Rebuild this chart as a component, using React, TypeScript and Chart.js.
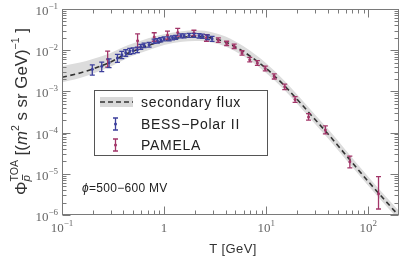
import React, { useEffect, useRef } from "react";
import { Chart, registerables } from "chart.js";
Chart.register(...registerables);

// secondary flux model curve and its uncertainty band
const curveT = [0.1, 0.15, 0.2, 0.3, 0.4, 0.5, 0.7, 1, 1.5, 2, 2.5, 3, 4, 5, 6, 8, 10, 15, 20, 30, 40, 60, 100, 150, 200];
const curveF = [2.2e-3, 2.8e-3, 3.5e-3, 5.2e-3, 7.5e-3, 9.5e-3, 1.3e-2, 1.7e-2, 2.05e-2, 2.15e-2, 2.1e-2, 1.95e-2, 1.58e-2, 1.2e-2, 9.2e-3, 5.6e-3, 3.6e-3, 1.4e-3, 6.5e-4, 2.1e-4, 9.5e-5, 2.9e-5, 6.5e-6, 2.1e-6, 9.5e-7];
const bandHigh = [4.1e-3, 5.0e-3, 6.1e-3, 8.6e-3, 1.2e-2, 1.47e-2, 1.95e-2, 2.45e-2, 2.9e-2, 3.05e-2, 2.95e-2, 2.7e-2, 2.15e-2, 1.62e-2, 1.24e-2, 7.5e-3, 4.8e-3, 1.85e-3, 8.5e-4, 2.75e-4, 1.25e-4, 3.8e-5, 8.5e-6, 2.75e-6, 1.25e-6];
const bandLow = [1.65e-3, 2.1e-3, 2.7e-3, 4.0e-3, 5.8e-3, 7.4e-3, 1.0e-2, 1.33e-2, 1.6e-2, 1.68e-2, 1.64e-2, 1.52e-2, 1.23e-2, 9.3e-3, 7.2e-3, 4.4e-3, 2.8e-3, 1.1e-3, 5.1e-4, 1.65e-4, 7.4e-5, 2.25e-5, 5.1e-6, 1.65e-6, 7.4e-7];

// BESS-Polar II
const bessT = [0.198, 0.245, 0.289, 0.349, 0.385, 0.421, 0.461, 0.497, 0.547, 0.591, 0.637, 0.713, 0.798, 0.86, 0.928, 1.0, 1.12, 1.21, 1.3, 1.46, 1.57, 1.76, 1.97, 2.2, 2.37, 2.66, 2.95];
const bessF = [3.44e-3, 4.07e-3, 4.95e-3, 6.5e-3, 7.8e-3, 8.7e-3, 9.5e-3, 9.8e-3, 1.03e-2, 1.22e-2, 1.32e-2, 1.36e-2, 1.66e-2, 1.7e-2, 1.8e-2, 1.9e-2, 1.9e-2, 2.0e-2, 2.07e-2, 2.25e-2, 2.25e-2, 2.3e-2, 2.3e-2, 2.25e-2, 2.2e-2, 2.07e-2, 1.9e-2];
const bessErrPct = [28, 26, 24, 22, 20, 18, 17, 16, 15, 14, 13, 13, 12, 12, 12, 11, 11, 11, 11, 11, 11, 11, 11, 12, 12, 13, 14];

// PAMELA
const pamT = [0.28, 0.55, 0.8, 1.08, 1.36, 1.96, 2.6, 3.4, 4.1, 4.86, 5.8, 6.9, 8.2, 9.8, 12, 15.2, 19.2, 26, 38, 66, 126];
const pamF = [6.0e-3, 1.7e-2, 2.1e-2, 2.3e-2, 2.7e-2, 2.6e-2, 2.0e-2, 1.75e-2, 1.46e-2, 1.25e-2, 8.6e-3, 5.9e-3, 4.9e-3, 3.6e-3, 2.3e-3, 1.29e-3, 6.4e-4, 2.4e-4, 1.16e-4, 1.95e-5, 3.3e-6];
const pamHi = [9.5e-3, 2.5e-2, 2.65e-2, 2.9e-2, 3.4e-2, 3.05e-2, 2.4e-2, 2.0e-2, 1.65e-2, 1.4e-2, 9.7e-3, 6.7e-3, 5.6e-3, 4.1e-3, 2.65e-3, 1.5e-3, 7.5e-4, 2.9e-4, 1.45e-4, 2.7e-5, 8.5e-6];
const pamLo = [3.9e-3, 1.15e-2, 1.65e-2, 1.85e-2, 2.2e-2, 2.25e-2, 1.65e-2, 1.55e-2, 1.3e-2, 1.1e-2, 7.6e-3, 5.2e-3, 4.3e-3, 3.15e-3, 2.0e-3, 1.1e-3, 5.4e-4, 2.0e-4, 9.3e-5, 1.4e-5, 1.4e-6];

// axes
const xMin = 0.1, xMax = 200, yMin = 1e-6, yMax = 1e-1;
const xTickExps = [-1, 0, 1, 2];
const yTickExps = [-6, -5, -4, -3, -2, -1];
const legendLabels = ["secondary flux", "BESS\u2212Polar II", "PAMELA"];
const xTitle = "T [GeV]";
const phiLabel = "=500\u2212600 MV";

const SANS = '"Liberation Sans", Arial, sans-serif';
const SERIF = '"Liberation Serif", "Times New Roman", serif';
const BLUE = "#3c3f9c";
const PINK = "#a23568";

type Part = { t: string; f: string; dy: number; bar?: boolean };
type Item = Part | { stack: Part[] };

function itemWidth(ctx: CanvasRenderingContext2D, it: Item): number {
  if ("stack" in it) return Math.max(...it.stack.map((p) => itemWidth(ctx, p)));
  ctx.font = it.f;
  return ctx.measureText(it.t).width;
}
function partsWidth(ctx: CanvasRenderingContext2D, items: Item[]) {
  return items.reduce((s, it) => s + itemWidth(ctx, it), 0);
}
function drawPart(ctx: CanvasRenderingContext2D, p: Part, x: number, y: number) {
  ctx.font = p.f;
  ctx.fillText(p.t, x, y + p.dy);
  if (p.bar) {
    const w = ctx.measureText(p.t).width;
    ctx.save();
    ctx.lineWidth = 0.9;
    ctx.strokeStyle = ctx.fillStyle as string;
    ctx.beginPath();
    ctx.moveTo(x + 1.5, y + p.dy - 7.5);
    ctx.lineTo(x + w + 0.5, y + p.dy - 7.5);
    ctx.stroke();
    ctx.restore();
  }
}
function drawItems(ctx: CanvasRenderingContext2D, items: Item[], x: number, y: number) {
  let cx = x;
  for (const it of items) {
    if ("stack" in it) it.stack.forEach((p) => drawPart(ctx, p, cx, y));
    else drawPart(ctx, it, cx, y);
    cx += itemWidth(ctx, it);
  }
}
function powItems(e: number): Item[] {
  if (e === 0) return [{ t: "1", f: `13px ${SERIF}`, dy: 0 }];
  return [
    { t: "10", f: `13px ${SERIF}`, dy: 0 },
    { t: e < 0 ? "\u2212" + -e : String(e), f: `9px ${SERIF}`, dy: -6 },
  ];
}

const errorBarPlugin = {
  id: "errbars",
  afterDatasetsDraw(chart: any) {
    const { ctx, scales, chartArea } = chart;
    const x = scales.x, y = scales.y;
    ctx.save();
    ctx.beginPath();
    ctx.rect(chartArea.left, chartArea.top, chartArea.right - chartArea.left, chartArea.bottom - chartArea.top);
    ctx.clip();
    chart.data.datasets.forEach((ds: any) => {
      if (!ds.errHi) return;
      ctx.strokeStyle = ds.borderColor;
      ctx.lineWidth = 1.3;
      ds.data.forEach((p: any, j: number) => {
        const px = x.getPixelForValue(p.x);
        const y1 = y.getPixelForValue(ds.errHi[j]);
        const y2 = y.getPixelForValue(ds.errLo[j]);
        ctx.beginPath();
        ctx.moveTo(px, y1);
        ctx.lineTo(px, y2);
        ctx.moveTo(px - 2.5, y1);
        ctx.lineTo(px + 2.5, y1);
        ctx.moveTo(px - 2.5, y2);
        ctx.lineTo(px + 2.5, y2);
        ctx.stroke();
      });
    });
    ctx.restore();
  },
};

const decorPlugin = {
  id: "decor",
  afterDraw(chart: any) {
    const { ctx, scales, chartArea: ca } = chart;
    const x = scales.x, y = scales.y;
    ctx.save();
    // frame
    ctx.strokeStyle = "#7a7a7a";
    ctx.lineWidth = 1;
    const L = Math.round(ca.left) + 0.5, R = Math.round(ca.right) - 0.5;
    const T = Math.round(ca.top) + 0.5, B = Math.round(ca.bottom) - 0.5;
    ctx.strokeRect(L, T, R - L, B - T);
    ctx.beginPath();
    // x ticks
    for (let d = -1; d <= 2; d++) {
      for (let m = 1; m <= 9; m++) {
        const v = m * Math.pow(10, d);
        if (v < xMin || v >= xMax) continue;
        const px = Math.round(x.getPixelForValue(v)) + 0.5;
        const len = m === 1 ? 8 : 4;
        ctx.moveTo(px, B); ctx.lineTo(px, B - len);
        ctx.moveTo(px, T); ctx.lineTo(px, T + len);
      }
    }
    // y ticks
    for (let d = -6; d <= -1; d++) {
      for (let m = 1; m <= 9; m++) {
        const v = m * Math.pow(10, d);
        if (v < yMin || v > yMax) continue;
        const py = Math.round(y.getPixelForValue(v)) + 0.5;
        const len = m === 1 ? 8 : 4;
        ctx.moveTo(L, py); ctx.lineTo(L + len, py);
        ctx.moveTo(R, py); ctx.lineTo(R - len, py);
      }
    }
    ctx.stroke();

    // tick labels
    ctx.fillStyle = "#666";
    ctx.textBaseline = "alphabetic";
    ctx.textAlign = "left";
    xTickExps.forEach((e) => {
      const items = powItems(e);
      const w = partsWidth(ctx, items);
      const px = x.getPixelForValue(Math.pow(10, e));
      drawItems(ctx, items, px - w / 2, 232);
    });
    yTickExps.forEach((e) => {
      const items = powItems(e);
      const w = partsWidth(ctx, items);
      const py = y.getPixelForValue(Math.pow(10, e));
      drawItems(ctx, items, 58 - w, py + 6);
    });

    // x title
    ctx.fillStyle = "#333";
    ctx.font = `13px ${SANS}`;
    (ctx as any).letterSpacing = "0.4px";
    const tw = ctx.measureText(xTitle).width;
    ctx.fillText(xTitle, 233 - tw / 2, 253);

    // y title (rotated)
    (ctx as any).letterSpacing = "0px";
    const yItems: Item[] = [
      { t: "\u03A6", f: `16px ${SANS}`, dy: 0 },
      { stack: [
        { t: "TOA", f: `10px ${SANS}`, dy: -9 },
        { t: "p", f: `italic 11px ${SANS}`, dy: 3, bar: true },
      ] },
      { t: " [(", f: `16px ${SANS}`, dy: 0 },
      { t: "m", f: `italic 16px ${SANS}`, dy: 0 },
      { t: "2", f: `10px ${SANS}`, dy: -8 },
      { t: " s sr GeV)", f: `16px ${SANS}`, dy: 0 },
      { t: "\u22121", f: `10px ${SANS}`, dy: -8 },
      { t: " ]", f: `16px ${SANS}`, dy: 0 },
    ];
    const yw = partsWidth(ctx, yItems);
    ctx.save();
    ctx.translate(27, 195);
    ctx.rotate(-Math.PI / 2);
    ctx.scale(167 / yw, 1);
    drawItems(ctx, yItems, 0, 0);
    ctx.restore();

    // legend
    const lx = 94.5, ly = 90.5, lw = 173, lh = 65;
    ctx.fillStyle = "#fff";
    ctx.fillRect(lx, ly, lw, lh);
    ctx.strokeStyle = "#555";
    ctx.lineWidth = 1;
    ctx.strokeRect(lx, ly, lw, lh);
    const rows = [102, 124, 145];
    ctx.fillStyle = "#d9d9d9";
    ctx.fillRect(100, rows[0] - 5, 33, 10);
    ctx.strokeStyle = "#333";
    ctx.lineWidth = 1.6;
    ctx.setLineDash([5, 3]);
    ctx.beginPath();
    ctx.moveTo(100, rows[0]);
    ctx.lineTo(133, rows[0]);
    ctx.stroke();
    ctx.setLineDash([]);
    [BLUE, PINK].forEach((c, i) => {
      const cy = rows[i + 1];
      ctx.strokeStyle = c;
      ctx.lineWidth = 1.3;
      ctx.beginPath();
      ctx.moveTo(115.5, cy - 6); ctx.lineTo(115.5, cy + 6);
      ctx.moveTo(113, cy - 6); ctx.lineTo(118, cy - 6);
      ctx.moveTo(113, cy + 6); ctx.lineTo(118, cy + 6);
      ctx.stroke();
      ctx.fillStyle = c;
      ctx.beginPath();
      ctx.arc(115.5, cy, 1.5, 0, Math.PI * 2);
      ctx.fill();
    });
    ctx.fillStyle = "#222";
    ctx.font = `14px ${SANS}`;
    (ctx as any).letterSpacing = "0.7px";
    ctx.textBaseline = "middle";
    legendLabels.forEach((s, i) => ctx.fillText(s, 141, rows[i] + 1));

    // phi annotation
    (ctx as any).letterSpacing = "0.3px";
    ctx.fillStyle = "#222";
    ctx.font = `italic 12px ${SANS}`;
    ctx.fillText("\u03D5", 82, 189);
    const pw = ctx.measureText("\u03D5").width;
    ctx.font = `12px ${SANS}`;
    ctx.fillText(phiLabel, 82 + pw, 189);
    ctx.restore();
  },
};

export default function App() {
  const ref = useRef<HTMLCanvasElement | null>(null);
  useEffect(() => {
    document.body.style.margin = "0";
    const canvas = ref.current!;
    const chart = new Chart(canvas, {
      type: "line",
      data: {
        datasets: [
          {
            type: "scatter",
            label: "PAMELA",
            data: pamT.map((t, i) => ({ x: t, y: pamF[i] })),
            backgroundColor: PINK,
            borderColor: PINK,
            pointRadius: 1.5,
            pointBorderWidth: 0,
            showLine: false,
            order: 0,
            errHi: pamHi,
            errLo: pamLo,
          } as any,
          {
            type: "scatter",
            label: "BESS-Polar II",
            data: bessT.map((t, i) => ({ x: t, y: bessF[i] })),
            backgroundColor: BLUE,
            borderColor: BLUE,
            pointRadius: 1.5,
            pointBorderWidth: 0,
            showLine: false,
            order: 1,
            errHi: bessF.map((f, i) => f * (1 + bessErrPct[i] / 100)),
            errLo: bessF.map((f, i) => f * (1 - bessErrPct[i] / 100)),
          } as any,
          {
            label: "secondary flux",
            data: curveT.map((t, i) => ({ x: t, y: curveF[i] })),
            borderColor: "#333",
            borderWidth: 1.6,
            borderDash: [5, 3.5],
            pointRadius: 0,
            fill: false,
            cubicInterpolationMode: "monotone",
            order: 2,
          },
          {
            label: "band high",
            data: curveT.map((t, i) => ({ x: t, y: bandHigh[i] })),
            borderWidth: 0,
            borderColor: "rgba(0,0,0,0)",
            backgroundColor: "#dcdcdc",
            pointRadius: 0,
            fill: "+1",
            cubicInterpolationMode: "monotone",
            order: 3,
          },
          {
            label: "band low",
            data: curveT.map((t, i) => ({ x: t, y: bandLow[i] })),
            borderWidth: 0,
            borderColor: "rgba(0,0,0,0)",
            pointRadius: 0,
            fill: false,
            cubicInterpolationMode: "monotone",
            order: 4,
          },
        ],
      },
      options: {
        responsive: false,
        animation: false,
        devicePixelRatio: 1,
        layout: { padding: { left: 62, right: 8, top: 9, bottom: 43 } },
        plugins: { legend: { display: false }, tooltip: { enabled: false }, title: { display: false } },
        scales: {
          x: { type: "logarithmic", min: xMin, max: xMax, display: false },
          y: { type: "logarithmic", min: yMin, max: yMax, display: false },
        },
      },
      plugins: [errorBarPlugin, decorPlugin],
    });
    return () => chart.destroy();
  }, []);
  return (
    <div style={{ width: 407, height: 258, background: "#fff" }}>
      <canvas ref={ref} width={407} height={258} style={{ display: "block", width: 407, height: 258 }} />
    </div>
  );
}
